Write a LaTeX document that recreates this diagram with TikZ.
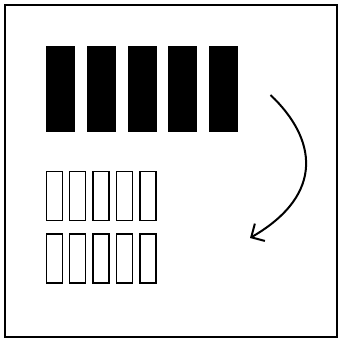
\documentclass[tikz,border=0pt]{standalone}
\usetikzlibrary{arrows.meta}
\begin{document}
\begin{tikzpicture}[x=1pt,y=-1pt,
  bigbar/.style={fill=black,draw=none,minimum width=29pt,minimum height=86pt,inner sep=0pt,outer sep=0pt},
  smallbox/.style={draw=black,line width=1.3pt,fill=white,minimum width=16pt,minimum height=49pt,inner sep=0pt},
  frame/.style={draw=black,line width=2pt},
  turn/.style={draw=black,line width=2pt,-{Straight Barb[length=10pt,width=20pt,line width=2pt]}}]
\useasboundingbox (0,0) rectangle (338,340);
\draw[frame] (5,5) rectangle (336.5,337);
% black bars
\foreach \i/\x in {1/60.5,2/101.5,3/142.5,4/182.5,5/223.5}
  \node[bigbar] (b\i) at (\x,89) {};
% outlined boxes
\foreach \i/\x in {1/54.5,2/77.5,3/101,4/124.5,5/148}{
  \node[smallbox] (r\i) at (\x,196) {};
  \node[smallbox] (s\i) at (\x,258.5) {};
}
% curved arrow
\coordinate (from) at (270.5,95);
\coordinate (to) at (250,238);
\draw[turn] (from) .. controls (316,138) and (326,194) .. (to);
\end{tikzpicture}
\end{document}
